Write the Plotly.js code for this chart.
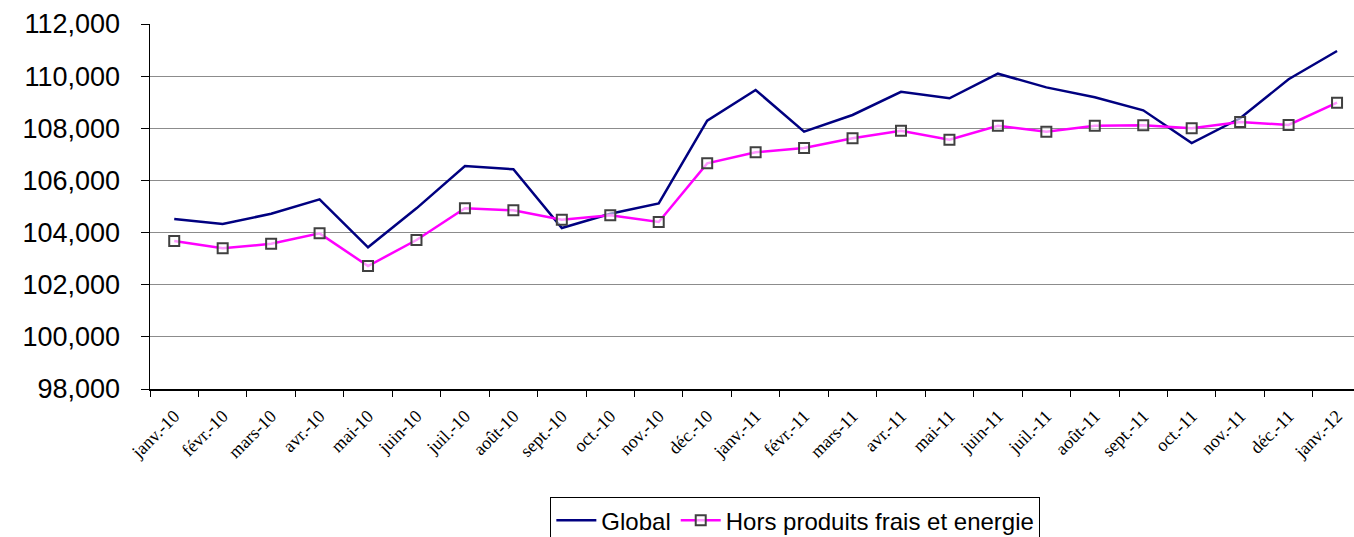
<!DOCTYPE html>
<html>
<head>
<meta charset="utf-8">
<script src="https://cdn.plot.ly/plotly-3.0.1.min.js"></script>
<style>html,body{margin:0;padding:0;background:#fff;}#chart{width:1354px;height:537px;}</style>
</head>
<body>
<div id="chart"></div>
<script>
const months = ["janv.-10","févr.-10","mars-10","avr.-10","mai-10","juin-10","juil.-10","août-10","sept.-10","oct.-10","nov.-10","déc.-10",
  "janv.-11","févr.-11","mars-11","avr.-11","mai-11","juin-11","juil.-11","août-11","sept.-11","oct.-11","nov.-11","déc.-11","janv.-12"];
const globalIdx = [104520,104330,104720,105275,103435,104930,106553,106426,104175,104720,105120,108290,
  109468,107870,108510,109400,109150,110094,109570,109190,108690,107435,108383,109880,110964];
const horsFrais = [103676,103396,103570,103970,102717,103714,104930,104853,104495,104662,104405,106656,
  107078,107243,107615,107907,107562,108100,107870,108100,108114,107999,108240,108126,108981];
const yTicks = [98000,100000,102000,104000,106000,108000,110000,112000];
const yTickText = ["98,000","100,000","102,000","104,000","106,000","108,000","110,000","112,000"];

const traces = [
  {x: months, y: globalIdx, name: "Global", type: "scatter", mode: "lines",
   line: {color: "#000080", width: 2.5}},
  {x: months, y: horsFrais, name: "Hors produits frais et energie", type: "scatter", mode: "lines+markers",
   line: {color: "#ff00ff", width: 2.5},
   marker: {symbol: "square", size: 10, color: "rgba(255,255,255,0.6)", line: {color: "#404040", width: 2}}}
];

const layout = {
  width: 1354, height: 537,
  margin: {l: 150, r: 0, t: 24, b: 148, autoexpand: false},
  paper_bgcolor: "#fff", plot_bgcolor: "#fff",
  showlegend: true,
  legend: {orientation: "h", x: 0.536, xanchor: "center", y: -0.296, yanchor: "top",
    font: {family: "Liberation Sans, Arial, sans-serif", size: 24, color: "#000"},
    bordercolor: "#000", borderwidth: 1, bgcolor: "#fff", traceorder: "normal",
    itemwidth: 40, tracegroupgap: 0},
  xaxis: {type: "category", range: [-0.5, 24.35], tickson: "boundaries", automargin: false,
    ticks: "outside", ticklen: 6, tickcolor: "#000", tickwidth: 1,
    showline: true, linecolor: "#000", linewidth: 1.5, showgrid: false, zeroline: false,
    tickangle: -45, ticklabelstandoff: 8,
    tickfont: {family: "Liberation Serif, Times New Roman, serif", size: 18, color: "#000"}},
  yaxis: {range: [98000, 112000], tickvals: yTicks, ticktext: yTickText, automargin: false,
    ticks: "outside", ticklen: 8, tickcolor: "#000", tickwidth: 1,
    showline: true, linecolor: "#000", linewidth: 1.5,
    showgrid: true, gridcolor: "#8c8c8c", gridwidth: 1, zeroline: false,
    ticklabelstandoff: 15,
    tickfont: {family: "Liberation Sans, Arial, sans-serif", size: 27, color: "#000"}}
};

Plotly.newPlot("chart", traces, layout, {displayModeBar: false, staticPlot: true});
</script>
</body>
</html>
